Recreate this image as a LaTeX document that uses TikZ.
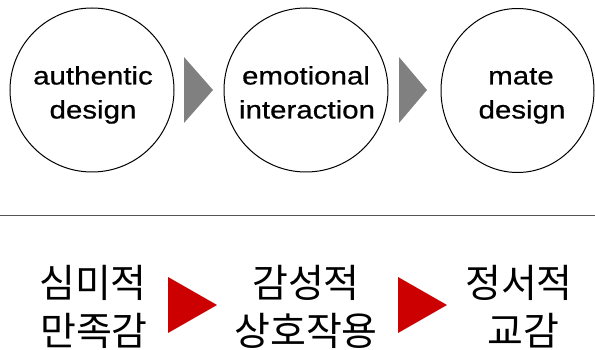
\documentclass[tikz,border=0pt]{standalone}
\usepackage{fontspec}
\usetikzlibrary{shapes.geometric}
\newfontfamily\enfont{Liberation Sans}[FakeStretch=1.17,FakeBold=0.6]
\newfontfamily\kofont{Noto Sans CJK KR}
\definecolor{arrowgray}{RGB}{128,128,128}
\definecolor{arrowred}{RGB}{204,0,0}
\definecolor{rulegray}{RGB}{85,85,85}
\begin{document}
\begin{tikzpicture}[x=1pt,y=-1pt,
  bubble/.style={draw=black,line width=1pt,ellipse,minimum width=164pt,minimum height=164pt,inner sep=0pt},
  entext/.style={font=\enfont\fontsize{25.2}{25.2}\selectfont,anchor=base,inner sep=0pt},
  kotext/.style={font=\kofont\fontsize{39}{39}\selectfont,anchor=base,inner sep=0pt},
  graytri/.style={fill=arrowgray,draw=none},
  redtri/.style={fill=arrowred,draw=none},
  rulestyle/.style={draw=rulegray,line width=1pt}]
\useasboundingbox (0,0) rectangle (595,350);
\clip (0,0) rectangle (595,350);
% circles
\node[bubble] (c1) at (92,90) {};
\node[bubble] (c2) at (306,90) {};
\node[bubble,minimum width=153pt] (c3) at (517.5,90.5) {};
% english texts
\node[entext] (t1a) at (93,84.5) {authentic};
\node[entext] (t1b) at (93,118.5) {design};
\node[entext] (t2a) at (306,84.5) {emotional};
\node[entext] (t2b) at (307,118.5) {interaction};
\node[entext] (t3a) at (521,84.5) {mate};
\node[entext] (t3b) at (522,118.5) {design};
% gray arrows
\path[graytri] (184,57) -- (184,123) -- (213,90) -- cycle;
\path[graytri] (399,57) -- (399,123) -- (427,90) -- cycle;
% rule
\coordinate (rl) at (0,216);
\coordinate (rr) at (595,216);
\draw[rulestyle] (rl) -- (rr);
% korean texts
\node[kotext] (k1a) at (93,297) {심미적};
\node[kotext] (k1b) at (94,345) {만족감};
\node[kotext] (k2a) at (306,297) {감성적};
\node[kotext] (k2b) at (306,345) {상호작용};
\node[kotext] (k3a) at (519,297) {정서적};
\node[kotext] (k3b) at (523,345) {교감};
% red arrows
\path[redtri] (168,277) -- (168,333) -- (217,305) -- cycle;
\path[redtri] (398,277) -- (398,333) -- (447,305) -- cycle;
\end{tikzpicture}
\end{document}
